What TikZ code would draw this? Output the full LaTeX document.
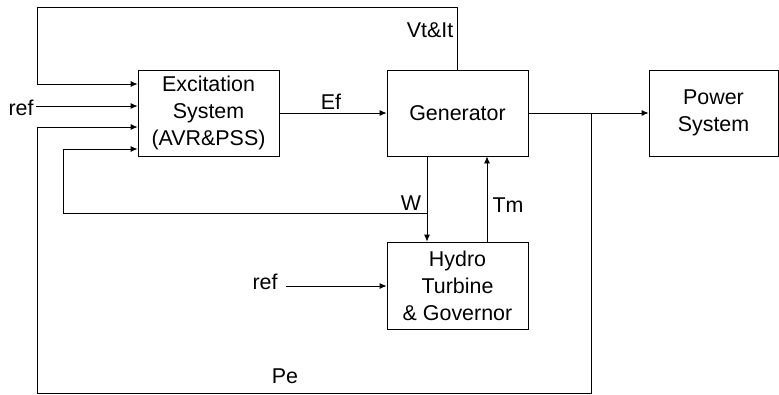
\documentclass[tikz,border=0pt]{standalone}
\usepackage{fontspec}
\setmainfont{Liberation Sans}
\usetikzlibrary{arrows.meta}
\begin{document}
\begin{tikzpicture}[x=1bp,y=-1bp,
  line width=0.8bp,
  blk/.style={draw, minimum width=141bp, minimum height=86bp, align=center, inner sep=0pt,
    font=\fontsize{21.5}{27}\selectfont},
  lbl/.style={anchor=base, inner sep=0pt, font=\fontsize{21.5}{27}\selectfont},
  arr/.style={-{Latex[length=7bp,width=6bp]}}]
\useasboundingbox (0,0) rectangle (779,394);
\node[blk] (exc) at (208.5,113) {Excitation\\System\\(AVR\&PSS)};
\node[blk] (gen) at (457.5,113) {Generator};
\node[blk, minimum width=129bp] (ps) at (713.5,113) {Power\\System};
\node[blk, minimum height=87bp] (hyd) at (457.5,285.5) {Hydro\\Turbine\\\& Governor};
% coordinates
\coordinate (vtop) at (457,7);
\coordinate (vleft) at (37,7);
\coordinate (vin) at (37,84);
\coordinate (refl) at (36,106);
\coordinate (pein) at (37,127);
\coordinate (pebl) at (37,393);
\coordinate (pebr) at (591,393);
\coordinate (petap) at (591,113);
\coordinate (win) at (63,149);
\coordinate (wbl) at (63,213);
\coordinate (wbr) at (427,213);
\coordinate (tmx) at (487,200);
\coordinate (refh) at (286,286);
% labels
\node[lbl] (lref) at (21,115) {ref};
\node[lbl] (lef) at (331,109) {Ef};
\node[lbl] (lvt) at (430,37) {Vt\&It};
\node[lbl] (lw) at (411,210) {W};
\node[lbl] (ltm) at (508,212) {Tm};
\node[lbl] (lpe) at (285,383) {Pe};
\node[lbl] (lrefh) at (265,289) {ref};
% connectors
\draw[arr] (gen.north -| vtop) -- (vtop) -- (vleft) -- (vin) -- (vin -| exc.west);
\draw[arr] (refl) -- (refl -| exc.west);
\draw[arr] (petap) -- (pebr) -- (pebl) -- (pein) -- (pein -| exc.west);
\draw[arr] (wbr) -- (wbl) -- (win) -- (win -| exc.west);
\draw[arr] (exc.east) -- (gen.west);
\draw[arr] (gen.east) -- (ps.west);
\draw[arr] (gen.south -| wbr) -- (hyd.north -| wbr);
\draw[arr] (hyd.north -| tmx) -- (gen.south -| tmx);
\draw[arr] (refh) -- (refh -| hyd.west);
\end{tikzpicture}
\end{document}
